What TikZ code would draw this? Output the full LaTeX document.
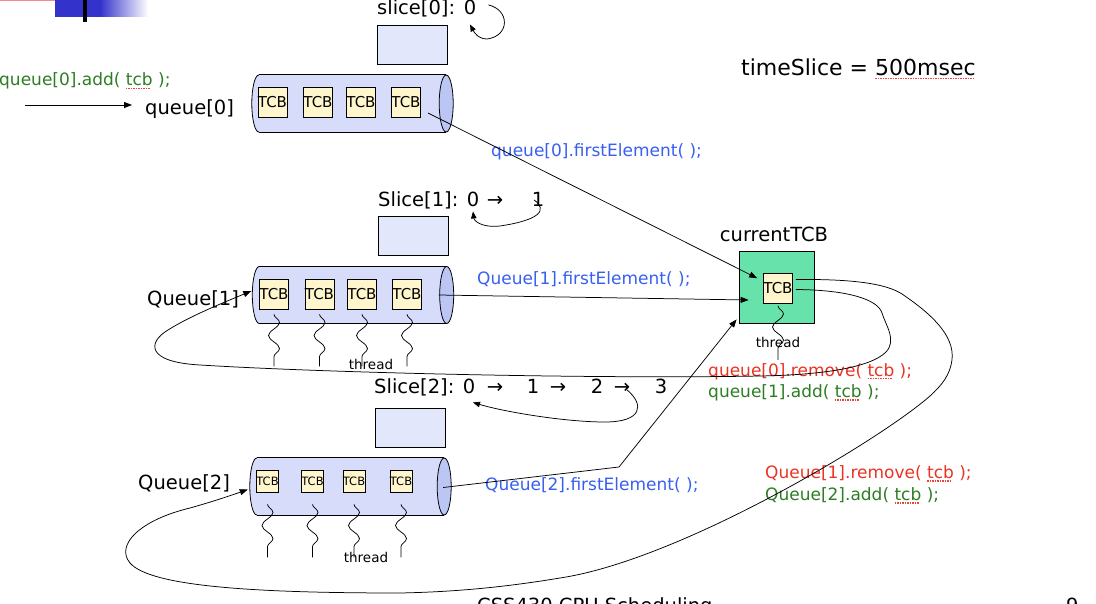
\documentclass[tikz,border=0pt]{standalone}
\usepackage{fontspec}
\setmainfont{DejaVu Sans}
\usetikzlibrary{arrows.meta,decorations.pathmorphing}
\definecolor{QBody}{RGB}{214,220,250}
\definecolor{QEnd}{RGB}{188,198,245}
\definecolor{SliceFill}{RGB}{226,231,252}
\definecolor{TcbFill}{RGB}{255,246,206}
\definecolor{CurGreen}{RGB}{102,226,170}
\definecolor{CodeBlue}{RGB}{55,95,240}
\definecolor{CodeRed}{RGB}{235,50,35}
\definecolor{CodeGreen}{RGB}{45,125,35}
\definecolor{SpellRed}{RGB}{235,70,60}
\definecolor{SlideBlue}{RGB}{51,51,204}
\definecolor{SlidePink}{RGB}{240,140,140}
\newcommand{\spell}[1]{\setbox0=\hbox{#1}\rlap{\raisebox{-3.5pt}[0pt][0pt]{\textcolor{SpellRed}{\hbox to \wd0{\leaders\hbox to 2.5pt{\rule{1.5pt}{1.2pt}\hss}\hfill}}}}\box0\relax}

\begin{document}
\begin{tikzpicture}[x=1pt,y=-1pt,
  big/.style={font=\fontsize{19.5}{22}\selectfont,inner sep=0pt},
  code/.style={font=\fontsize{17}{20}\selectfont,inner sep=0pt,anchor=base west},
  small/.style={font=\fontsize{13.5}{15}\selectfont,inner sep=0pt,anchor=base},
  queue/.style={minimum width=187pt,minimum height=57pt,inner sep=0pt},
  tcb/.style={draw,line width=0.7pt,fill=TcbFill,minimum width=29pt,minimum height=30pt,
    inner sep=0pt,font=\fontsize{15}{17}\selectfont},
  tcbsmall/.style={tcb,minimum width=22pt,minimum height=22pt,font=\fontsize{11.5}{13}\selectfont},
  slicebox/.style={draw,line width=0.8pt,fill=SliceFill,minimum width=70pt,minimum height=39pt},
  arr/.style={-{Triangle[length=8pt,width=6pt]},line width=0.75pt},
  loopback/.style={-{Triangle[length=7pt,width=5.5pt]},line width=0.75pt},
  thread/.style={decorate,decoration={snake,amplitude=5.5pt,segment length=26pt},line width=0.75pt}
]
\useasboundingbox (0,0) rectangle (1096,604);
\clip (0,0) rectangle (1096,604);

\fill[SlidePink] (0,0) rectangle (73,1.5);
\fill[SlideBlue] (55,0) rectangle (100,17);
\shade[left color=SlideBlue,right color=white] (100,0) rectangle (148,17);
\fill[black] (83,0) rectangle (87,22);

\node[queue] (q0) at (352.5,103.5) {};
\node[queue] (q1) at (353,295) {};
\node[queue] (q2) at (350.5,486.5) {};
\foreach \q in {q0,q1,q2} {
  \filldraw[fill=QBody,line width=0.8pt] (\q.west) ellipse [x radius=7,y radius=28.5];
  \fill[QBody] (\q.north west) rectangle (\q.south east);
  \draw[line width=0.8pt] (\q.north west) -- (\q.north east) (\q.south west) -- (\q.south east);
  \filldraw[fill=QEnd,line width=0.8pt] (\q.east) ellipse [x radius=7,y radius=28.5];
}
\foreach \x [count=\i] in {272.5,318,361,406} \node[tcb] (q0t\i) at (\x,102) {TCB};
\foreach \x [count=\i] in {274,319.5,362,407} \node[tcb] (q1t\i) at (\x,294) {TCB};
\foreach \x [count=\i] in {267.5,312.5,354,401} \node[tcbsmall] (q2t\i) at (\x,481) {TCB};
\foreach \i in {1,...,4} \draw[thread] ([yshift=-5pt]q1t\i.south) -- ++(0,52);
\foreach \i in {1,...,4} \draw[thread] ([yshift=-12pt]q2t\i.south) -- ++(0,53);
\node[small] (th1) at (371,370) {thread};
\node[small] (th2) at (366,562) {thread};

\node[big,anchor=base west] (lq0) at (145,115) {queue[0]};
\node[big,anchor=base west] (lq1) at (147,306) {Queue[1]};
\node[big,anchor=base west] (lq2) at (138,489) {Queue[2]};
\node[code,text=CodeGreen] (add0) at (-1,86) {queue[0].add( \spell{tcb} );};
\coordinate (inq) at (25,105);
\draw[arr,shorten >=13pt] (inq) -- (inq -| lq0.west);

\node[slicebox] (sb0) at (412,44.5) {};
\node[slicebox] (sb1) at (413,236) {};
\node[slicebox] (sb2) at (410,427.5) {};
\node[big,anchor=base west] (sl0) at (377,15) {slice[0]:};
\node[big,anchor=base] (s0n1) at (470,15) {0};
\node[big,anchor=base west] (sl1) at (378,207) {Slice[1]:};
\foreach \t/\x [count=\i] in {0/473,→/495,1/538} \node[big,anchor=base] (s1n\i) at (\x,207) {\t};
\node[big,anchor=base west] (sl2) at (374,393) {Slice[2]:};
\foreach \t/\x [count=\i] in {0/469,→/495,1/533,→/558,2/597,→/622,3/661}
  \node[big,anchor=base] (s2n\i) at (\x,393) {\t};
\draw[loopback] ([shift={(12pt,3pt)}]s0n1.east) .. controls (510,10) and (510,36) .. (487,39)
  .. controls (478,39) and (474,32) .. ([yshift=-9pt]s0n1.south);
\draw[loopback] ([xshift=-4pt]s1n3.center) .. controls (548,210) and (540,220) .. (500,226)
  .. controls (480,228) and (474,220) .. ([yshift=-4pt]s1n1.south);
\draw[loopback] ([xshift=5pt,yshift=-2pt]s2n6.center) .. controls (645,405) and (642,422) .. (605,422)
  .. controls (565,422) and (505,412) .. ([shift={(4pt,-9pt)}]s2n1.south);

\node[big,anchor=base west,font=\fontsize{22}{25}\selectfont] (ts) at (741,76) {timeSlice = \spell{500msec}};

\node[draw,line width=0.8pt,fill=CurGreen,minimum width=75pt,minimum height=72pt] (cur) at (776.5,287) {};
\node[big,anchor=base] (lcur) at (774,242) {currentTCB};
\node[tcb] (ctcb) at (778,288.5) {TCB};
\draw[thread] ([yshift=-2pt]ctcb.south) -- ++(0,54);
\node[small] (thc) at (778,348) {thread};

\node[code,text=CodeBlue] (fe0) at (491,157) {queue[0].firstElement( );};
\node[code,text=CodeBlue] (fe1) at (477,285) {Queue[1].firstElement( );};
\node[code,text=CodeBlue] (fe2) at (485,490) {Queue[2].firstElement( );};
\node[code,text=CodeRed] (rm0) at (708,376) {queue[0].remove( \spell{tcb} );};
\node[code,text=CodeGreen] (ad1) at (708,397) {queue[1].add( \spell{tcb} );};
\node[code,text=CodeRed] (rm1) at (765,478) {Queue[1].remove( \spell{tcb} );};
\node[code,text=CodeGreen] (ad2) at (765,500) {Queue[2].add( \spell{tcb} );};

\coordinate (q0out) at (428,113);
\draw[arr] (q0out) -- ([shift={(-6pt,-5pt)}]ctcb.north west);
\draw[arr] ([xshift=-8pt]q1.east) -- ([shift={(10pt,-13pt)}]cur.west);
\coordinate (bend) at (619,467);
\draw[arr] ([xshift=-1pt,yshift=-1pt]q2.east) -- (bend) -- ([shift={(-2pt,4pt)}]cur.south west);

\draw[arr] ([xshift=3pt,yshift=-1pt]ctcb.east) .. controls (850,290) and (878,300) .. (882,313)
  .. controls (886,326) and (897,340) .. (886,352) .. controls (870,368) and (820,375) .. (760,376)
  .. controls (600,379) and (330,373) .. (200,365) .. controls (145,362) and (148,342) .. (168,330)
  .. controls (190,316) and (225,302) .. ([shift={(-8pt,4pt)}]q1.west);
\draw[arr] ([xshift=3pt,yshift=9pt]ctcb.east) .. controls (850,279) and (885,283) .. (902,294)
  .. controls (930,313) and (955,335) .. (952,360) .. controls (950,375) and (942,385) .. (930,396)
  .. controls (880,440) and (680,560) .. (560,578) .. controls (500,588) and (450,592) .. (400,593)
  .. controls (250,593) and (150,586) .. (130,563) .. controls (115,545) and (140,520) .. (190,508)
  .. controls (215,501) and (235,494) .. ([shift={(-9pt,-3pt)}]q2.west);

\node[big,anchor=base west] (foot) at (477,612) {CSS430 CPU Scheduling};
\node[big,anchor=base west] (page) at (1066,612) {9};
\end{tikzpicture}
\end{document}
